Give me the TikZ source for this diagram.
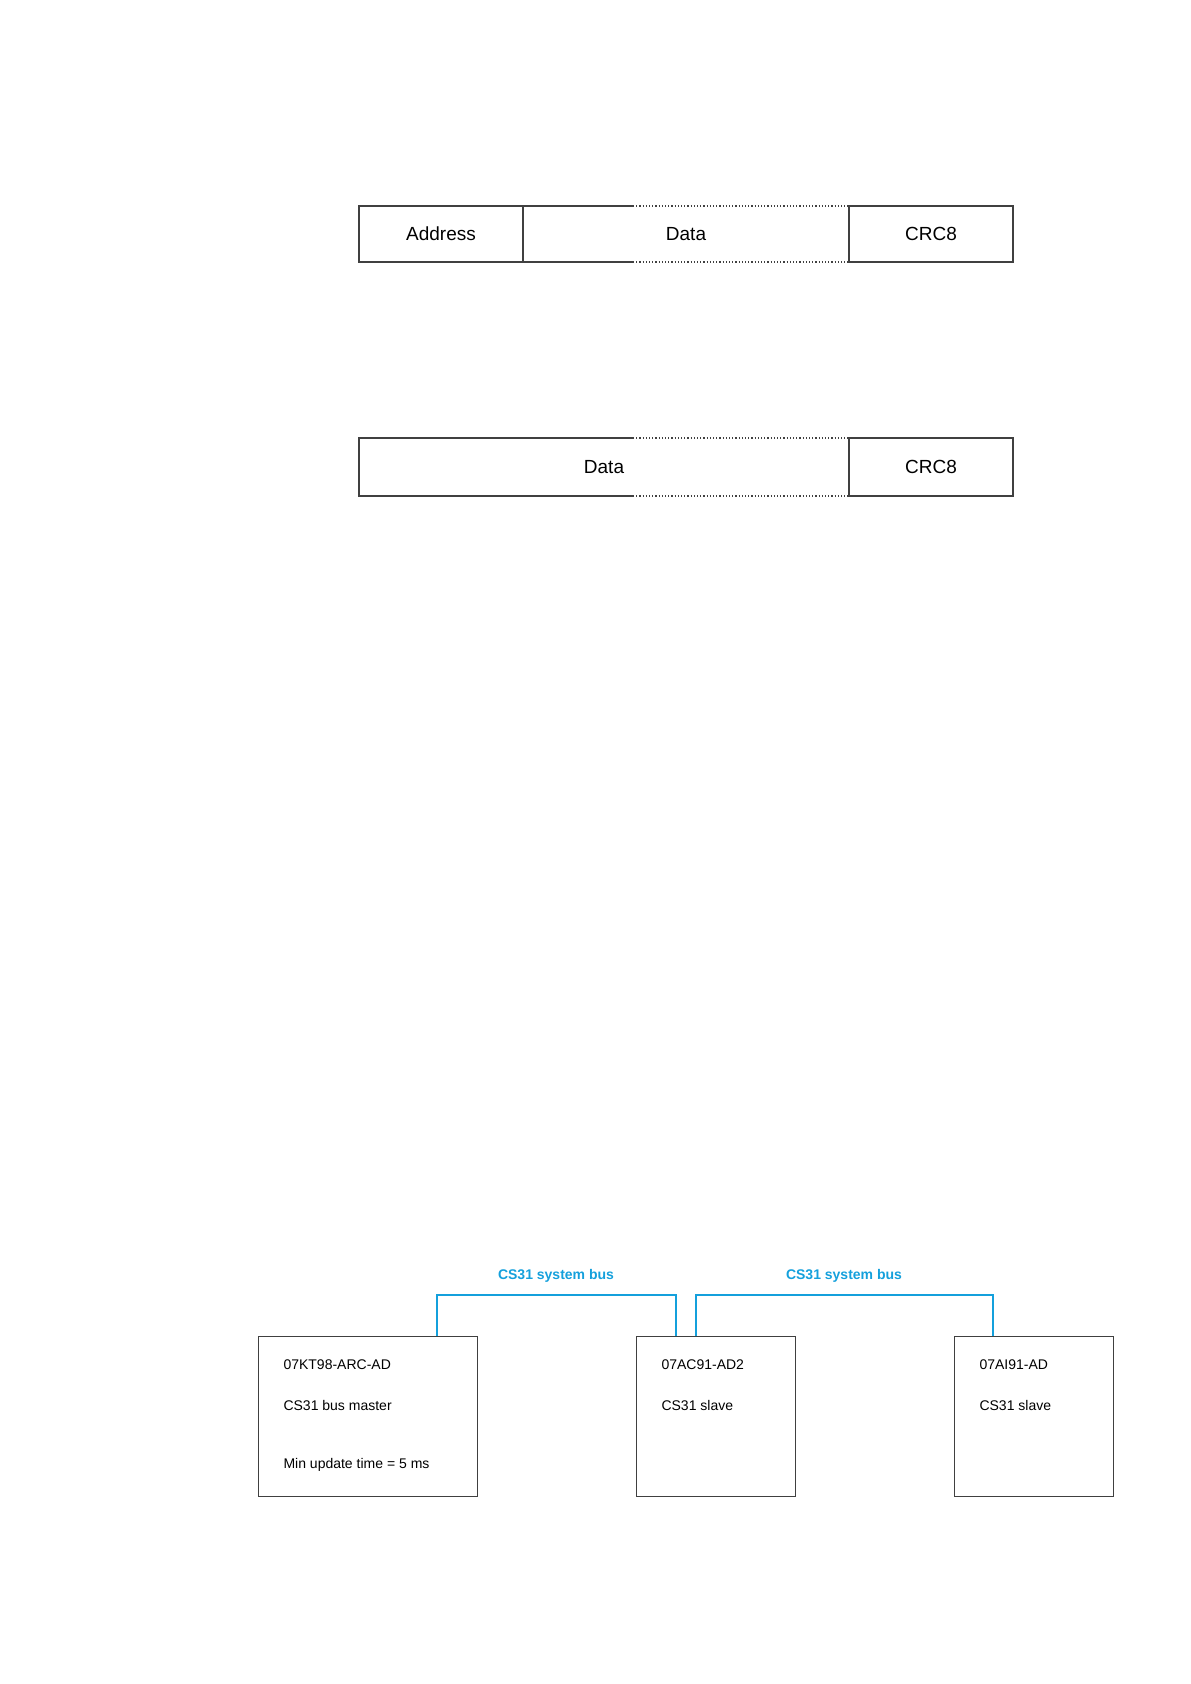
\documentclass[tikz,border=0pt]{standalone}
\usepackage{fontspec}
\setmainfont{Liberation Sans}
\definecolor{buscol}{RGB}{20,160,220}
\begin{document}
\begin{tikzpicture}[x=1pt,y=-1pt,
  fld/.style={draw=black!75,line width=1.2pt},
  dot/.style={draw=black!75,line width=1.2pt,dotted},
  big/.style={font=\fontsize{19}{22}\selectfont},
  unit/.style={draw=black!75,line width=0.9pt},
  sm/.style={font=\fontsize{14}{16}\selectfont,anchor=west},
  bus/.style={draw=buscol,line width=1.5pt},
  bl/.style={text=buscol,font=\fontsize{14}{16}\selectfont\bfseries}]
\useasboundingbox (0,0) rectangle (1191,1684);
% frame 1
\draw[fld] (633,206) -- (359,206) -- (359,262) -- (633,262);
\draw[dot] (633,206) -- (849,206); \draw[dot] (633,262) -- (849,262);
\draw[fld] (849,206) -- (1013,206) -- (1013,262) -- (849,262);
\draw[fld] (523,206) -- (523,262);
\draw[fld] (849,206) -- (849,262);
\node[big] (addr) at (441,234) {Address};
\node[big] (data1) at (686,234) {Data};
\node[big] (crc1) at (931,234) {CRC8};
% frame 2
\draw[fld] (633,438) -- (359,438) -- (359,496) -- (633,496);
\draw[dot] (633,438) -- (849,438); \draw[dot] (633,496) -- (849,496);
\draw[fld] (849,438) -- (1013,438) -- (1013,496) -- (849,496) -- cycle;
\node[big] (data2) at (604,467) {Data};
\node[big] (crc2) at (931,467) {CRC8};
% units
\node[unit,minimum width=219,minimum height=160,inner sep=0,anchor=north west] (u1) at (258,1336) {};
\node[unit,minimum width=159,minimum height=160,inner sep=0,anchor=north west] (u2) at (636,1336) {};
\node[unit,minimum width=159,minimum height=160,inner sep=0,anchor=north west] (u3) at (954,1336) {};
\node[sm] (t1a) at (280,1365) {07KT98-ARC-AD};
\node[sm] (t1b) at (280,1405) {CS31 bus master};
\node[sm] (t1c) at (280,1465) {Min update time = 5 ms};
\node[sm] (t2a) at (658,1365) {07AC91-AD2};
\node[sm] (t2b) at (658,1405) {CS31 slave};
\node[sm] (t3a) at (976,1365) {07AI91-AD};
\node[sm] (t3b) at (976,1405) {CS31 slave};
\coordinate (b1a) at (437,1295); \coordinate (b1b) at (676,1295);
\coordinate (b2a) at (696,1295); \coordinate (b2b) at (993,1295);
\draw[bus] (u1.north west -| b1a) -- (b1a) -- (b1b) -- (u2.north west -| b1b);
\draw[bus] (u2.north west -| b2a) -- (b2a) -- (b2b) -- (u3.north west -| b2b);
\node[bl] (l1) at (556,1276) {CS31 system bus};
\node[bl] (l2) at (844,1276) {CS31 system bus};
\end{tikzpicture}
\end{document}
